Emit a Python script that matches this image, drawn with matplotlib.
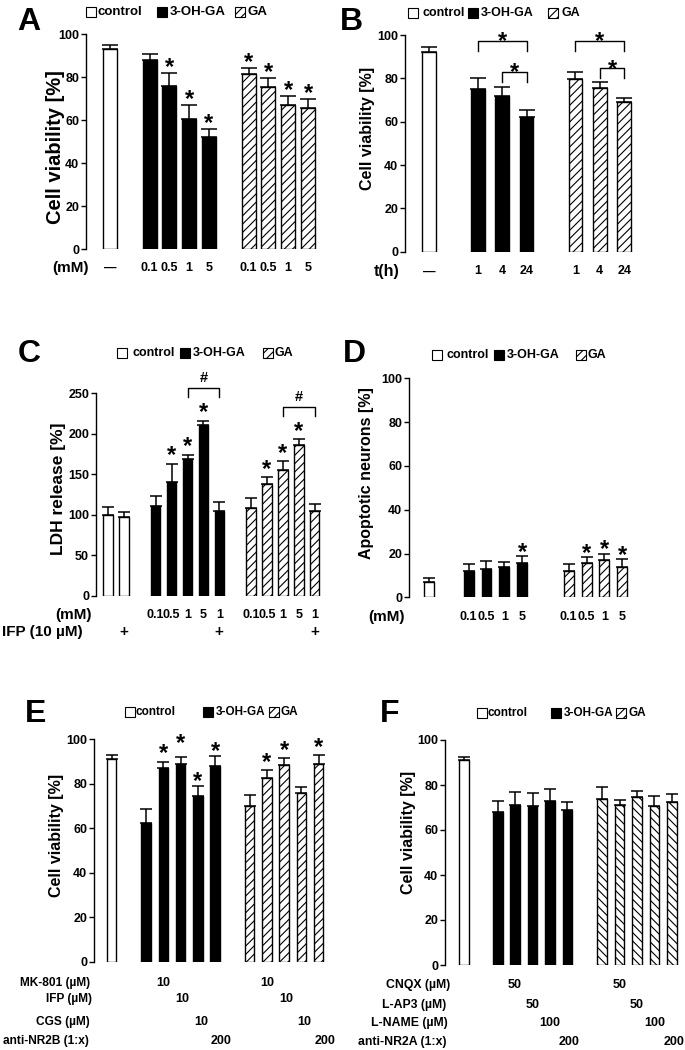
import matplotlib
matplotlib.use('Agg')
import matplotlib.pyplot as plt
import matplotlib.transforms as mtransforms
from matplotlib.patches import Rectangle
import numpy as np

plt.rcParams['font.family'] = ['Liberation Sans', 'DejaVu Sans']
plt.rcParams['font.weight'] = 'bold'
plt.rcParams['hatch.linewidth'] = 0.8

# ---------------- data ----------------
# Panel A: cell viability vs concentration
a_conc = ['0.1', '0.5', '1', '5']
a_ctrl = [93]; a_ctrl_err = [2]
a_oh = [88, 76, 60.5, 52]; a_oh_err = [3, 6, 6.5, 4]
a_ga = [81.5, 75.5, 67, 65.5]; a_ga_err = [3, 4, 4.5, 4.3]
a_oh_sig = [0, 1, 1, 1]; a_ga_sig = [1, 1, 1, 1]

# Panel B: cell viability vs time
b_time = ['1', '4', '24']
b_ctrl = [92]; b_ctrl_err = [2.5]
b_oh = [75, 72, 62]; b_oh_err = [5, 4, 3.5]
b_ga = [79.5, 75.7, 69]; b_ga_err = [3.5, 2.8, 2]

# Panel C: LDH release
c_conc = ['0.1', '0.5', '1', '5', '1']
c_ctrl = [100, 97]; c_ctrl_err = [10, 7]
c_oh = [111, 141, 169, 211, 105]; c_oh_err = [12, 22, 5, 5, 11]
c_ga = [108, 138, 155, 186, 105]; c_ga_err = [13, 8, 11, 7, 8]
c_oh_sig = [0, 1, 1, 1, 0]; c_ga_sig = [0, 1, 1, 1, 0]
c_ifp_ctrl = ['', '+']; c_ifp = ['', '', '', '', '+']

# Panel D: apoptotic neurons
d_conc = ['0.1', '0.5', '1', '5']
d_ctrl = [7]; d_ctrl_err = [2]
d_oh = [12, 13, 14, 15.5]; d_oh_err = [3, 3.5, 2, 3.5]
d_ga = [12, 15.5, 17, 14]; d_ga_err = [3, 3, 3, 3.5]
d_oh_sig = [0, 0, 0, 1]; d_ga_sig = [0, 1, 1, 1]

# Panel E: NMDA antagonists
e_ctrl = [91]; e_ctrl_err = [2]
e_oh = [62.5, 87, 89, 74.5, 88]; e_oh_err = [6, 3, 3, 4.5, 4.5]
e_ga = [70, 82.5, 88.5, 76, 89]; e_ga_err = [4.8, 3.5, 3.3, 2.5, 4]
e_oh_sig = [0, 1, 1, 1, 1]; e_ga_sig = [0, 1, 1, 0, 1]
e_rows = ['MK-801 (µM)', 'IFP (µM)', 'CGS (µM)', 'anti-NR2B (1:x)']
e_row_vals = ['10', '10', '10', '200']

# Panel F: other antagonists
f_ctrl = [91]; f_ctrl_err = [1.5]
f_oh = [68, 71, 70.8, 72.9, 68.9]; f_oh_err = [5, 6, 5.6, 5.2, 3.4]
f_ga = [73.9, 71.2, 74.5, 70.8, 72.3]; f_ga_err = [5, 2.1, 2.8, 4.4, 3.6]
f_rows = ['CNQX (µM)', 'L-AP3 (µM)', 'L-NAME (µM)', 'anti-NR2A (1:x)']
f_row_vals = ['50', '50', '100', '200']

legend_labels = ['control', '3-OH-GA', 'GA']

# ---------------- layout ----------------
W, H = 685, 1050
fig = plt.figure(figsize=(W / 100, H / 100), dpi=100)

ov = fig.add_axes([0, 0, 1, 1])
ov.set_xlim(0, W); ov.set_ylim(H, 0)
ov.axis('off'); ov.set_zorder(10); ov.patch.set_alpha(0)


def make_ax(spine_x, right_x, y0, ytop, ymax, ticks, ctrl_px, slot):
    ax = fig.add_axes([spine_x / W, 1 - y0 / H, (right_x - spine_x) / W, (y0 - ytop) / H])
    ax.set_xlim((spine_x - ctrl_px) / slot, (right_x - ctrl_px) / slot)
    ax.set_ylim(0, ymax)
    for s in ['top', 'right', 'bottom']:
        ax.spines[s].set_visible(False)
    ax.spines['left'].set_linewidth(1.0)
    ax.set_xticks([])
    ax.set_yticks(ticks)
    ax.tick_params(axis='y', direction='out', length=3.5, width=1, pad=1.5, labelsize=9)
    for t in ax.get_yticklabels():
        t.set_fontweight('bold')
    ax.patch.set_alpha(0)
    return ax


def bars(ax, pos, vals, errs, width, fc, hatch=None, cap=5):
    ax.bar(pos, vals, width, color=fc, edgecolor='black', linewidth=1.0, hatch=hatch, zorder=2)
    ax.errorbar(pos, vals, yerr=[np.zeros(len(vals)), errs], fmt='none', ecolor='black',
                elinewidth=1.1, capsize=cap, capthick=1.1, zorder=3)


def stars(ax, pos, vals, errs, sig, center_px, fs=17):
    for p, v, e, s in zip(pos, vals, errs, sig):
        if s:
            ax.annotate('*', xy=(p, v + e), xytext=(0, center_px * 0.72 - 0.55 * fs),
                        textcoords='offset points', ha='center', va='baseline',
                        fontsize=fs, fontweight='bold', annotation_clip=False)


def bracket(ax, x1, x2, ylow, yhigh, mark, mark_px, fs, frac):
    ax.plot([x1, x1, x2, x2], [ylow, yhigh, yhigh, ylow], color='black', lw=1.0, clip_on=False)
    ax.annotate(mark, xy=((x1 + x2) / 2, yhigh), xytext=(0, mark_px * 0.72 - frac * fs),
                textcoords='offset points', ha='center', va='baseline', fontsize=fs,
                fontweight='bold', annotation_clip=False)


def xrow(ax, pos, labels, ypx, fs=9, dx=0):
    tr = mtransforms.blended_transform_factory(ax.transData, ov.transData)
    off = mtransforms.offset_copy(tr, fig=fig, x=dx * 0.72, y=0, units='points')
    for p, l in zip(pos, labels):
        if l:
            ax.text(p, ypx, l, transform=off, ha='center', va='center', fontsize=fs,
                    fontweight='bold', clip_on=False)


def legend(xs_box, xs_txt, yc, fs=9, gahatch='////'):
    fcs = ['white', 'black', 'white']
    hs = [None, None, gahatch]
    for bx, tx, fc, h, lab in zip(xs_box, xs_txt, fcs, hs, legend_labels):
        ov.add_patch(Rectangle((bx, yc - 5), 10, 10, facecolor=fc, edgecolor='black', lw=0.8, hatch=h))
        ov.text(tx, yc, lab, ha='left', va='center', fontsize=fs, fontweight='bold')


def letter(x, y, s):
    ov.text(x, y, s, ha='left', va='top', fontsize=23, fontweight='bold')


def ylab(x, y, s, fs=11.5):
    ov.text(x, y, s, rotation=90, ha='center', va='center', fontsize=fs, fontweight='bold')


HATCH = '////'

# ---------------- Panel A ----------------
ax = make_ax(86, 330, 249.3, 34.3, 100, [0, 20, 40, 60, 80, 100], 110, 19.8)
pc = np.arange(len(a_ctrl)); po = 2 + np.arange(len(a_oh)); pg = 7 + np.arange(len(a_ga))
bars(ax, pc, a_ctrl, a_ctrl_err, 0.7, 'white', cap=6)
bars(ax, po, a_oh, a_oh_err, 0.7, 'black', cap=6)
bars(ax, pg, a_ga, a_ga_err, 0.7, 'white', HATCH, cap=6)
stars(ax, po, a_oh, a_oh_err, a_oh_sig, 12)
stars(ax, pg, a_ga, a_ga_err, a_ga_sig, 12)
xrow(ax, pc, ['—'], 268)
xrow(ax, po, a_conc, 268)
xrow(ax, pg, a_conc, 268)
ov.text(89, 268, '(mM)', ha='right', va='center', fontsize=11, fontweight='bold')
ylab(56, 147, 'Cell viability [%]', fs=14.5)
letter(17, 7, 'A')
legend([86, 157, 235], [98, 170, 248], 12, fs=9.5)

# ---------------- Panel B ----------------
ax = make_ax(405, 645, 251.7, 35, 100, [0, 20, 40, 60, 80, 100], 429, 24.4)
pc = np.arange(len(b_ctrl)); po = 2 + np.arange(len(b_oh)); pg = 6 + np.arange(len(b_ga))
bars(ax, pc, b_ctrl, b_ctrl_err, 0.55, 'white', cap=6)
bars(ax, po, b_oh, b_oh_err, 0.55, 'black', cap=6)
bars(ax, pg, b_ga, b_ga_err, 0.55, 'white', HATCH, cap=6)
bracket(ax, po[0], po[2], 92.6, 97.4, '*', 5.5, 17, 0.55)
bracket(ax, po[1], po[2], 78.5, 83, '*', 5.5, 17, 0.55)
bracket(ax, pg[0], pg[2], 92.6, 97.4, '*', 5.5, 17, 0.55)
bracket(ax, pg[1], pg[2], 80, 84.6, '*', 5.5, 17, 0.55)
xrow(ax, pc, ['—'], 271.5)
xrow(ax, po, b_time, 271.5)
xrow(ax, pg, b_time, 271.5)
ov.text(400, 271.5, 't(h)', ha='right', va='center', fontsize=11.5, fontweight='bold')
ylab(368, 128, 'Cell viability [%]')
letter(340, 7, 'B')
legend([408, 468, 548], [423, 481, 562], 12.5)

# ---------------- Panel C ----------------
ax = make_ax(96, 325, 595.7, 393.3, 250, [0, 50, 100, 150, 200, 250], 108, 15.9)
pc = np.arange(len(c_ctrl)); po = 3 + np.arange(len(c_oh)); pg = 9 + np.arange(len(c_ga))
bars(ax, pc, c_ctrl, c_ctrl_err, 0.6, 'white', cap=4.5)
bars(ax, po, c_oh, c_oh_err, 0.6, 'black', cap=4.5)
bars(ax, pg, c_ga, c_ga_err, 0.6, 'white', HATCH, cap=4.5)
stars(ax, po, c_oh, c_oh_err, c_oh_sig, 15)
stars(ax, pg, c_ga, c_ga_err, c_ga_sig, 14)
bracket(ax, po[2], po[4], 245.7, 256, '#', 11, 10.5, 0.34)
bracket(ax, pg[2], pg[4], 221.9, 232.6, '#', 11, 10.5, 0.34)
xrow(ax, po, c_conc, 615)
xrow(ax, pg, c_conc, 615)
xrow(ax, pc, c_ifp_ctrl, 632, fs=11)
xrow(ax, po, c_ifp, 632, fs=11)
xrow(ax, pg, c_ifp, 632, fs=11)
ov.text(92, 615, '(mM)', ha='right', va='center', fontsize=11, fontweight='bold')
ov.text(2, 632, 'IFP (10 µM)', ha='left', va='center', fontsize=11, fontweight='bold')
ylab(59, 489, 'LDH release [%]', fs=12.5)
letter(18, 339, 'C')
legend([117, 180, 263], [133, 193, 275], 353)

# ---------------- Panel D ----------------
ax = make_ax(409, 635, 597.3, 378.3, 100, [0, 20, 40, 60, 80, 100], 429, 17.8)
pc = np.arange(len(d_ctrl)); po = 2.23 + np.arange(len(d_oh)); pg = 7.85 + np.arange(len(d_ga))
bars(ax, pc, d_ctrl, d_ctrl_err, 0.56, 'white', cap=4.5)
bars(ax, po, d_oh, d_oh_err, 0.56, 'black', cap=4.5)
bars(ax, pg, d_ga, d_ga_err, 0.56, 'white', HATCH, cap=4.5)
stars(ax, po, d_oh, d_oh_err, d_oh_sig, 10)
stars(ax, pg, d_ga, d_ga_err, d_ga_sig, 10)
xrow(ax, po, d_conc, 617)
xrow(ax, pg, d_conc, 617)
ov.text(405, 617, '(mM)', ha='right', va='center', fontsize=11, fontweight='bold')
ylab(367, 473, 'Apoptotic neurons [%]')
letter(343, 339, 'D')
legend([432, 494, 576], [447, 507, 588], 355)

# ---------------- Panel E ----------------
ax = make_ax(94.3, 330, 962, 739.3, 100, [0, 20, 40, 60, 80, 100], 111.7, 17.25)
pc = np.arange(len(e_ctrl)); po = 2 + np.arange(len(e_oh)); pg = 8 + np.arange(len(e_ga))
bars(ax, pc, e_ctrl, e_ctrl_err, 0.55, 'white', cap=4.5)
bars(ax, po, e_oh, e_oh_err, 0.55, 'black', cap=4.5)
bars(ax, pg, e_ga, e_ga_err, 0.55, 'white', HATCH, cap=4.5)
stars(ax, po[:2], e_oh[:2], e_oh_err[:2], e_oh_sig[:2], 15)
stars(ax, po[2:3], e_oh[2:3], e_oh_err[2:3], e_oh_sig[2:3], 20)
stars(ax, po[3:], e_oh[3:], e_oh_err[3:], e_oh_sig[3:], 11)
stars(ax, pg, e_ga, e_ga_err, e_ga_sig, 14)
e_row_y = [982.7, 999.3, 1021.7, 1040.7]
e_row_x = [90, 91.7, 90, 89]
e_row_dx = [0, 2, 3, 6]
for i, (lab, val) in enumerate(zip(e_rows, e_row_vals)):
    ov.text(e_row_x[i], e_row_y[i], lab, ha='right', va='center', fontsize=8.6, fontweight='bold')
    xrow(ax, [po[i + 1], pg[i + 1]], [val, val], e_row_y[i], dx=e_row_dx[i])
ylab(57, 835, 'Cell viability [%]')
letter(25, 699, 'E')
legend([125, 203, 269], [136, 216, 281], 712, fs=8.5)

# ---------------- Panel F ----------------
ax = make_ax(445, 684, 965, 740, 100, [0, 20, 40, 60, 80, 100], 463.8, 17.4)
pc = np.arange(len(f_ctrl)); po = 1.95 + np.arange(len(f_oh)); pg = 7.95 + np.arange(len(f_ga))
bars(ax, pc, f_ctrl, f_ctrl_err, 0.55, 'white', cap=4.5)
bars(ax, po, f_oh, f_oh_err, 0.55, 'black', cap=4.5)
bars(ax, pg, f_ga, f_ga_err, 0.55, 'white', '\\\\\\\\', cap=4.5)
f_row_y = [985, 1005, 1023.3, 1041.7]
f_row_x = [450, 446.7, 448, 446.7]
f_row_dx = [0, 0, 0, 2]
for i, (lab, val) in enumerate(zip(f_rows, f_row_vals)):
    ov.text(f_row_x[i], f_row_y[i], lab, ha='right', va='center', fontsize=8.8, fontweight='bold')
    xrow(ax, [po[i + 1], pg[i + 1]], [val, val], f_row_y[i], dx=f_row_dx[i])
ylab(409, 832, 'Cell viability [%]')
letter(380, 699, 'F')
legend([477, 551, 616], [488, 564, 629], 713, fs=8.5)

fig.savefig('out.png', dpi=100)
